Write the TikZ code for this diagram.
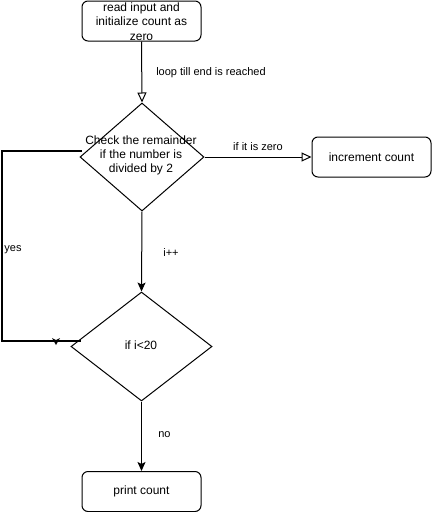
\documentclass[tikz,border=0pt]{standalone}
\usepackage{fontspec}
\setmainfont{Liberation Sans}
\usetikzlibrary{shapes.geometric,arrows.meta}
\begin{document}
\begin{tikzpicture}[x=1pt,y=-1pt,line width=1pt,
  procbox/.style={draw,rounded corners=6pt,inner sep=0pt},
  decision/.style={draw,diamond,inner sep=0pt},
  boxtext/.style={align=center,font=\fontsize{12}{14.3}\selectfont,inner sep=0pt},
  lbl/.style={font=\fontsize{11}{13}\selectfont,inner sep=0pt},
  openarrow/.style={-{Triangle[open,length=10pt,width=9pt]}},
  fillarrow/.style={-{Stealth[length=9pt,width=8pt,inset=2pt]}}]
\useasboundingbox (0,0) rectangle (432,512);
% boxes
\node[procbox,minimum width=119pt,minimum height=40pt] (start) at (141.5,21) {};
\node[boxtext] at (141.5,21.5) {read input and\\initialize count as\\zero};
\node[decision,minimum width=124pt,minimum height=108pt] (d1) at (142,157) {};
\node[boxtext] at (141,155.5) {Check the remainder\\if the number is\\divided by 2};
\node[procbox,minimum width=119pt,minimum height=40pt] (inc) at (371.5,157) {};
\node[boxtext] at (inc) {increment count};
\node[decision,minimum width=141pt,minimum height=109pt] (d2) at (141.5,346.5) {};
\node[boxtext] at (141,345) {if i<20};
\node[procbox,minimum width=119pt,minimum height=40pt] (print) at (141.5,491.5) {};
\node[boxtext] at (print) {print count};
% connectors
\draw[openarrow] (start.south) -- (d1.north);
\draw[openarrow] (d1.east) -- (inc.west);
\draw[fillarrow] (d1.south) -- (d2.north);
\draw[fillarrow] (d2.south) -- (print.north);
\coordinate (ystart) at (82,151);
\coordinate (yend) at (81,341);
\draw[line width=2pt] (ystart) -- (2,151) -- (2,341) -- (yend);
\coordinate (ytip) at (56,345);
\fill (ytip) -- ++(-4,-7) -- ++(4,2) -- ++(4,-2) -- cycle;
% labels
\node[lbl] (l1) at (211,72.5) {loop till end is reached};
\node[lbl] (l2) at (258,147) {if it is zero};
\node[lbl] (l3) at (171,252.5) {i++};
\node[lbl] (l4) at (13,249.5) {yes};
\node[lbl] (l5) at (164.5,435) {no};
\end{tikzpicture}
\end{document}
